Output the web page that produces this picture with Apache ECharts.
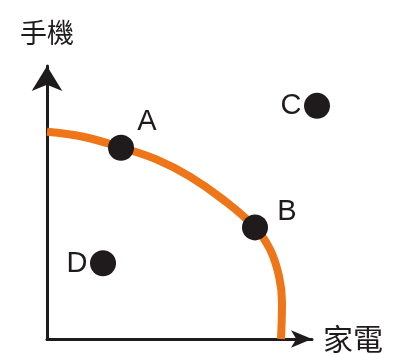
<!DOCTYPE html>
<html>
<head>
<meta charset="utf-8">
<script src="https://cdn.jsdelivr.net/npm/echarts@6/dist/echarts.min.js"></script>
<style>
  html, body { margin: 0; padding: 0; background: #fff; }
  #chart { width: 408px; height: 354px; }
</style>
</head>
<body>
<div id="chart"></div>
<script>
// frontier (家電, 手機)
var frontierX = [0, 36, 75, 110, 143, 176, 208, 223, 232, 235, 234];
var frontierY = [208, 203, 192, 180, 163, 140, 112, 90, 63, 37, 0];

var pointNames = ["A", "B", "C", "D"];
var pointX = [74, 208, 270, 56];
var pointY = [192, 112, 234, 76];

var xName = "家電";
var yName = "手機";

// where each letter sits around its dot
var labelOffsets = {
  A: [26, -26],
  B: [32, -15],
  C: [-26, 0],
  D: [-26, 1],
};

var ink = "#1f1b1c";

var myChart = echarts.init(document.getElementById("chart"));

var option = {
  backgroundColor: "#fff",
  animation: false,
  grid: {
    left: 47,
    right: 96,
    top: 66,
    bottom: 14,
  },
  xAxis: {
    type: "value",
    min: 0,
    max: 265,
    name: xName,
    nameLocation: "end",
    nameGap: 11,
    nameTextStyle: {
      color: ink,
      fontSize: 30,
      fontFamily: "Noto Sans CJK TC",
      verticalAlign: "middle",
    },
    axisLine: {
      show: true,
      symbol: ["none", "arrow"],
      symbolSize: [13, 21],
      lineStyle: { color: ink, width: 3 },
    },
    axisTick: { show: false },
    axisLabel: { show: false },
    splitLine: { show: false },
  },
  yAxis: {
    type: "value",
    min: 0,
    max: 274,
    name: yName,
    nameLocation: "end",
    nameGap: 20,
    nameTextStyle: {
      color: ink,
      fontSize: 27,
      fontFamily: "Noto Sans CJK TC",
      align: "center",
    },
    axisLine: {
      show: true,
      symbol: ["none", "arrow"],
      symbolSize: [23, 25],
      lineStyle: { color: ink, width: 3 },
    },
    axisTick: { show: false },
    axisLabel: { show: false },
    splitLine: { show: false },
  },
  series: [
    {
      name: "frontier",
      type: "line",
      smooth: 0.4,
      symbol: "none",
      lineStyle: { color: "#ee7619", width: 8 },
      data: frontierX.map(function (x, i) {
        return [x, frontierY[i]];
      }),
      z: 2,
    },
    {
      name: "points",
      type: "scatter",
      clip: false,
      symbolSize: 26,
      itemStyle: { color: ink, opacity: 1 },
      data: pointNames.map(function (n, i) {
        return {
          name: n,
          value: [pointX[i], pointY[i]],
          label: { offset: labelOffsets[n] },
        };
      }),
      label: {
        show: true,
        position: "inside",
        formatter: "{b}",
        color: ink,
        fontSize: 29,
        fontFamily: "Liberation Sans",
      },
      z: 3,
    },
  ],
};

option && myChart.setOption(option);
</script>
</body>
</html>
